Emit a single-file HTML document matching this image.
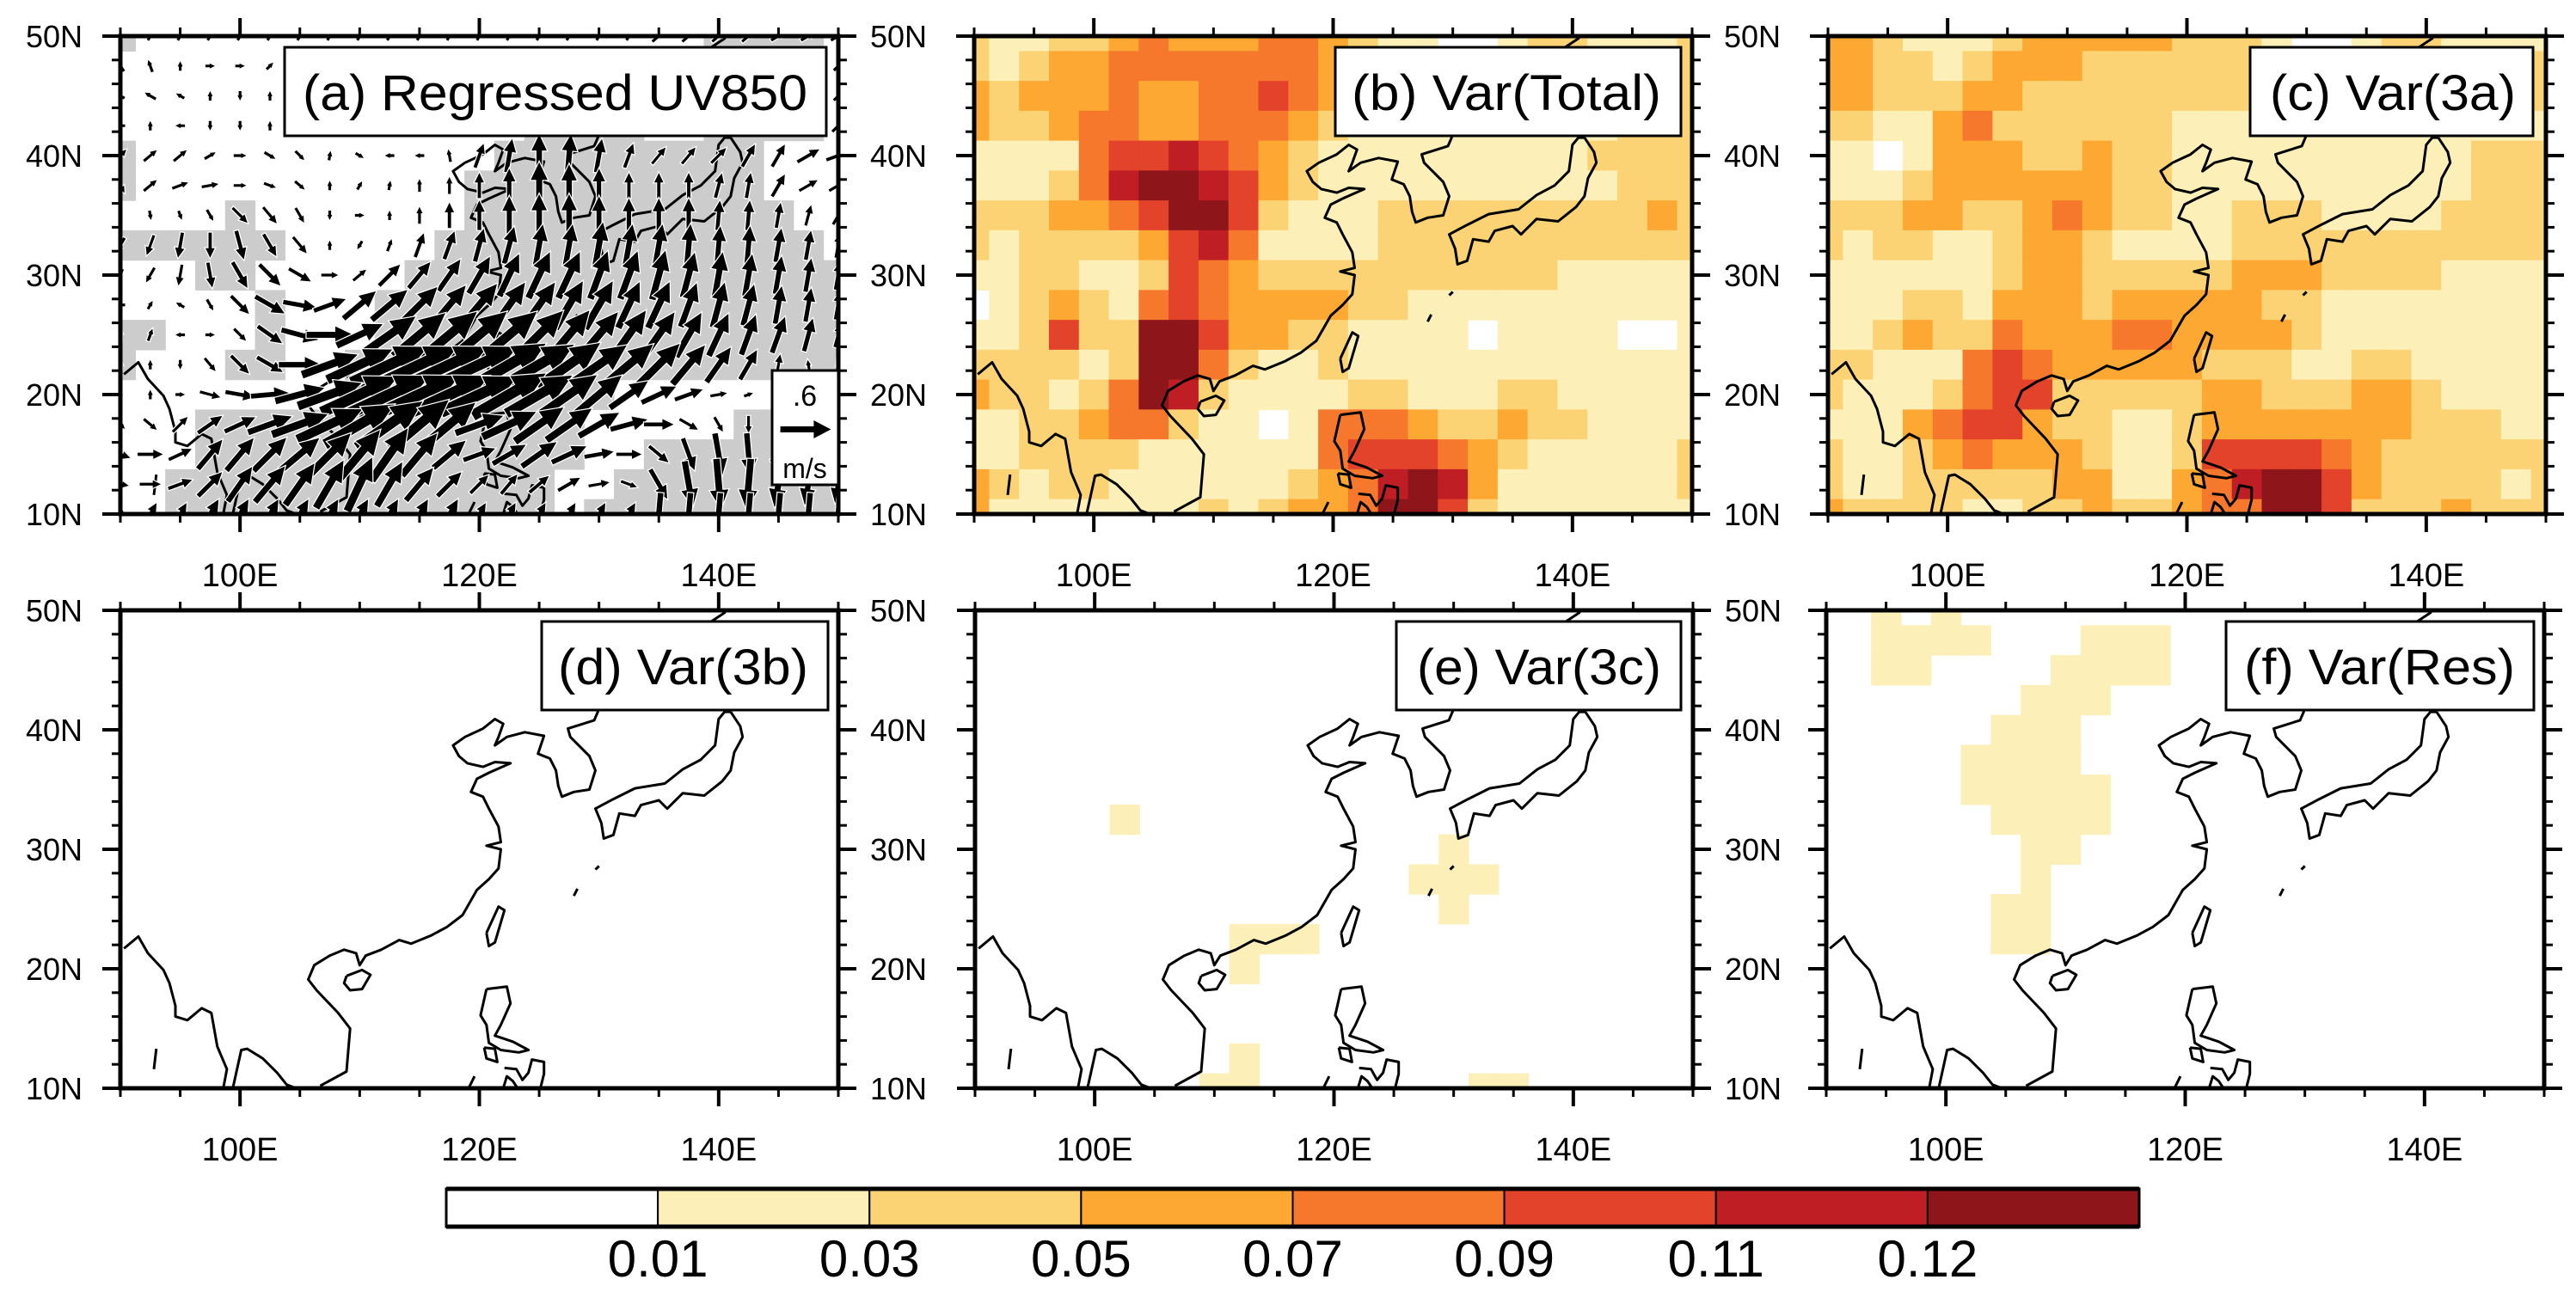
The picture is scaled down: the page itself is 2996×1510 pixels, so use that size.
<!DOCTYPE html>
<html><head><meta charset="utf-8"><title>Regressed UV850 and variance panels</title>
<style>html,body{margin:0;padding:0;background:#fff;}svg{display:block;font-family:"Liberation Sans",Arial,sans-serif;}</style>
</head><body>
<svg id="fig" xmlns="http://www.w3.org/2000/svg" width="2996" height="1510" viewBox="0 0 2996 1510"></svg>
<script>
// ===== DATA =====
const lonTicks = [100, 120, 140];
const lonTickLabels = ["100E", "120E", "140E"];
const latTicks = [10, 20, 30, 40, 50];
const latTickLabels = ["10N", "20N", "30N", "40N", "50N"];
const levelColors = ["#ffffff","#fcefb8","#fcd374","#fca832","#f5782d","#e3432a","#bf1f24","#8e161b"];
const levelLabels = ["0.01","0.03","0.05","0.07","0.09","0.11","0.12"];
const panelTitles = ["(a) Regressed UV850","(b) Var(Total)","(c) Var(3a)","(d) Var(3b)","(e) Var(3c)","(f) Var(Res)"];
// grid rows 50N -> 10N (2.5 deg), columns 90E -> 150E (2.5 deg)
const varTotal = [
"2112234333443211001221112","2123344444443333333333332","3233343344543222222222222",
"3223443344432111111111222","1111455654321111111112222","1112467765321111111111222",
"2223345775211122222222232","2122223564111122222222222","1122112543222222222211111",
"0123214543333221111111111","1125227753322111101111001","2222127742112111111111111",
"3221247621111221112211111","1122344211014443223221111","1122221111114555432111112",
"3212211111123467631111112","3111111121233477521111111"];
const var3a = [
"3321112333332221001221111","3322123332222222222222222","3322233222222222222222222",
"2211342222221111111111111","1101333223221111111111222","1112333333221111111111222",
"2223322343221122211112222","2122112332111122222222222","1111112332222233322221111",
"1112213332333332211111111","1123224333443333211111111","2211145433333222112211111",
"2111245522222332223321111","1113455322112333333322211","2112343332112555543222222",
"2112222233113467753222212","3222211223223447752223222"];
const var3b = Array(17).fill("0000000000000000000000000");
const var3c = [
"0000000000000000000000000","0000000000000000000000000","0000000000000000000000000",
"0000000000000000000000000","0000000000000000000000000","0000000000000000000000000",
"0000000000000000000000000","0000010000000000000000000","0000000000000000100000000",
"0000000000000001110000000","0000000000000000100000000","0000000001110000000000000",
"0000000001000000000000000","0000000000000000000000000","0000000000000000000000000",
"0000000001000000000000000","0000000011000000011000000"];
const varRes = [
"0010100000000000000000000","0011110001110000000000000","0011000011110000000000000",
"0000000111000000000000000","0000001110000000000000000","0000011110000000000000000",
"0000011111000000000000000","0000001111000000000000000","0000000110000000000000000",
"0000000100000000000000000","0000001100000000000000000","0000001100000000000000000",
"0000000000000000000000000","0000000000000000000000000","0000000000000000000000000",
"0000000000000000000000000","0000000000000000000000000"];
const sigMask = [
"1000000000000000000011110","0000000000000000000000000","0000000000000000000000000",
"0000000000000011110011110","1000000000000111111111000","1000000000001111111111000",
"0000100000001111111111100","1111110000011111111111110","0001100000111111111111111",
"0000010001111111111111111","1100010001111111111111111","1000110011111111111111111",
"0000000011111111100000000","0001111111111111000001111","0001111111111111001111111",
"0011111111111110011111111","0011111111111110111111111"];
const windDir = [
[60,60,60,60,60,60,60,60,60,60,60,60,60,60,60,60,60,60,40,40,40,40,30,30,30],
[125,110,90,0,0,45,45,45,45,45,45,45,45,45,45,45,45,45,45,45,45,45,45,45,45],
[150,150,150,90,270,90,90,90,90,90,90,90,90,90,90,90,90,90,90,90,90,90,90,45,45],
[180,90,180,270,270,90,90,90,90,90,90,90,90,90,90,90,90,90,90,90,90,60,60,45,45],
[45,40,40,30,0,-30,-45,80,-30,180,180,100,70,80,90,85,80,70,50,50,45,60,60,30,20],
[-60,40,20,10,0,-20,-40,90,60,80,90,90,90,90,90,90,90,90,90,90,75,80,60,30,30],
[-70,-80,-70,-60,-45,-50,-60,-90,0,90,90,90,90,90,90,90,90,90,90,90,85,85,80,75,60],
[-120,-110,-100,-90,-75,-60,-50,90,-120,70,70,70,75,75,80,80,80,80,80,85,85,85,80,80,80],
[-110,-120,-100,-80,-60,-45,-30,0,40,45,50,55,60,65,65,65,70,70,75,75,80,80,80,80,80],
[180,60,150,-60,-45,-30,-10,20,40,40,45,50,50,55,55,60,60,65,65,70,75,75,80,80,80],
[90,70,180,0,-45,-35,-15,0,25,35,40,40,40,40,45,50,50,55,55,60,65,70,70,75,75],
[90,90,270,-50,-45,-30,0,20,25,25,25,25,25,30,30,35,35,40,45,50,55,60,80,100,110],
[90,90,0,-15,-10,5,15,20,25,25,25,25,25,30,30,35,40,35,25,20,10,20,90,180,180],
[-45,-40,45,35,25,20,20,25,30,35,40,40,20,25,35,35,30,15,0,-30,-60,-90,-100,-110,-100],
[-20,0,25,50,50,45,40,45,50,55,50,40,20,30,35,25,10,0,-40,-70,-80,-85,-90,-95,-100],
[-10,0,20,45,55,50,55,60,65,60,50,45,45,50,40,30,10,-20,-60,-80,-85,-95,-100,-100,-100],
[90,60,60,60,60,60,60,60,60,60,60,60,60,60,60,60,60,60,-95,-95,-95,-95,-95,-95,-95]];
const windSpd = [
[.1,.1,.1,.1,.1,.1,.1,.1,.1,.1,.1,.1,.1,.1,.1,.1,.1,.1,.2,.2,.2,.2,.2,.2,.2],
[.15,.15,.1,.1,.1,.1,.1,.1,.1,.1,.1,.1,.1,.1,.1,.1,.1,.1,.1,.1,.1,.1,.1,.15,.15],
[.1,.15,.1,.1,.1,.1,.1,.1,.1,.1,.1,.1,.1,.1,.1,.1,.1,.1,.1,.1,.1,.1,.1,.15,.15],
[.1,.1,.05,.05,.1,.1,.1,.1,.1,.1,.1,.1,.2,.2,.2,.2,.2,.2,.2,.2,.2,.2,.2,.2,.2],
[.2,.2,.2,.15,.15,.15,.15,.1,.05,.1,.1,.15,.3,.4,.5,.5,.4,.3,.25,.25,.25,.3,.3,.3,.3],
[.2,.2,.2,.2,.15,.15,.15,.05,.05,.1,.15,.2,.3,.4,.55,.5,.4,.3,.3,.3,.3,.3,.3,.25,.25],
[.1,.1,.1,.15,.25,.25,.2,.1,.1,.1,.2,.3,.35,.45,.5,.5,.45,.4,.4,.4,.35,.35,.3,.25,.25],
[.2,.25,.3,.3,.35,.3,.25,.05,.1,.15,.3,.35,.4,.45,.5,.5,.55,.5,.5,.5,.45,.45,.4,.35,.3],
[.15,.2,.25,.3,.35,.35,.3,.2,.2,.35,.4,.45,.5,.55,.6,.6,.6,.6,.6,.55,.55,.5,.45,.4,.35],
[.05,.05,.1,.15,.3,.4,.4,.4,.5,.55,.6,.6,.65,.65,.65,.65,.65,.6,.6,.55,.55,.5,.45,.4,.35],
[.15,.15,.05,.05,.2,.35,.45,.55,.6,.75,.8,.85,.85,.85,.8,.75,.7,.7,.65,.6,.55,.5,.45,.4,.3],
[.05,.05,.05,.2,.3,.35,.5,.7,.85,1,1,1,1,1,.95,.9,.8,.75,.7,.6,.5,.4,.25,.1,.1],
[.05,.05,.1,.25,.35,.45,.6,.8,1,1.05,1.05,1.05,1,1,.9,.8,.7,.55,.45,.35,.2,.1,.05,.05,.05],
[.15,.2,.25,.35,.4,.55,.7,.85,.95,.95,.9,.8,.6,.7,.7,.65,.55,.45,.35,.25,.2,.2,.2,.2,.2],
[.25,.3,.3,.45,.5,.55,.6,.7,.75,.75,.65,.5,.4,.45,.5,.45,.35,.3,.3,.4,.5,.5,.55,.5,.45],
[.2,.25,.3,.4,.5,.55,.6,.65,.7,.6,.5,.4,.3,.3,.3,.3,.25,.2,.4,.55,.6,.6,.55,.5,.45],
[.2,.3,.3,.4,.4,.4,.4,.4,.4,.4,.4,.4,.3,.3,.3,.3,.3,.3,.5,.5,.5,.5,.5,.5,.5]];
const refSpeed = 0.6;
// coastline geometry (lon,lat)
const coasts = [
[[90.3,21.7],[91.5,22.7],[92.3,21.3],[93.6,19.9],[94.1,18.8],[94.6,16.9],[94.6,16],[95.6,15.7],[96.8,16.7],[97.6,16.3],[98.1,13.5],[98.9,11.6],[98.6,10]],
[[99.4,10],[100.1,13.2],[100.6,13.3],[101.9,12.5],[103.1,11.3],[103.9,10.3],[104.7,10]],
[[106.7,10.2],[108.9,11.4],[109.2,15.0],[108.2,16.3],[106.4,18.2],[105.7,19.1],[106.2,20.3],[107.5,21.1],[108.7,21.6],[109.7,21.3],[110,20.3],[110.5,21.1],[111.8,21.6],[113.3,22.4],[114.3,22.1],[116.0,22.8],[117.3,23.5],[118.6,24.5],[119.8,26.6],[120.8,27.5],[121.6,28.4],[121.8,30.0],[120.6,30.3],[121.8,30.6],[121.6,31.9],[120.8,33.4],[120.3,34.4],[119.3,34.8],[119.8,35.9],[120.8,36.4],[122.6,37.2],[121.3,37.3],[120.3,36.9],[119.0,37.2],[118.3,37.8],[117.8,38.7],[118.8,39.4],[120.3,40.1],[121.3,40.9],[122.0,40.5],[121.6,39.4],[121.3,38.7],[122.3,39.4],[123.8,39.8],[125.4,39.5],[124.9,38.0],[125.9,37.6],[126.4,36.6],[126.6,35.3],[126.9,34.4],[127.9,34.8],[129.2,35.0],[129.7,36.6],[129.2,37.8],[127.6,39.4],[127.4,40.1],[129.6,40.8],[129.9,41.5],[130.4,44],[131.4,44.7],[135.5,46.5],[140.5,49.8],[140.8,50.5]],
[[141.0,41.5],[141.8,40.3],[142.0,39.4],[141.3,38.1],[141.0,36.6],[140.3,35.7],[138.8,34.5],[137.0,34.7],[135.7,33.4],[135.0,34.1],[133.5,33.7],[133.0,32.8],[131.7,33.0],[131.2,31.2],[130.4,30.9],[130.2,32.2],[129.7,33.4],[131.2,34.2],[133.0,35.1],[135.5,35.5],[137.0,36.7],[138.5,37.5],[139.7,38.7],[140.0,40.9],[140.5,41.5],[141.0,41.5]],
[[141.5,41.8],[141.2,43.0],[141.8,45.3],[143.5,44.2],[145.5,43.3],[143.3,42.0],[141.5,41.8]],
[[120.6,23.0],[121.6,25.2],[122.1,24.9],[121.3,22.2],[120.8,21.9],[120.6,23.0]],
[[108.9,19.4],[110.2,19.9],[110.9,19.5],[110.2,18.3],[109.2,18.2],[108.7,18.8],[108.9,19.4]],
[[120.6,18.3],[122.3,18.5],[122.6,17.1],[121.8,15.3],[121.3,14.4],[122.8,13.9],[124.1,13.2],[123.3,13.0],[121.8,13.2],[120.8,13.8],[120.6,15.3],[120.1,16.1],[120.6,18.3]],
[[120.4,13.4],[121.3,13.3],[121.5,12.2],[120.6,12.5],[120.4,13.4]],
[[122.1,11.7],[123.1,11.6],[123.6,10.7],[124.1,11.3],[124.4,12.4],[125.4,12.2],[125.4,11.2],[125.1,10.0]],
[[122.0,10],[122.3,11.0],[122.8,10.6],[123.2,10]],
[[93.0,13.3],[92.8,11.6]],
[[129.7,28.3],[130.0,28.6]],
[[128.2,26.7],[127.9,26.1]],
[[119.1,10],[119.6,11.0]]];

// ===== LAYOUT =====
const NS = "http://www.w3.org/2000/svg";
const svg = document.getElementById("fig");
const LON0 = 90, LON1 = 150, LAT0 = 10, LAT1 = 50;
const PW = 835, PH = 556;
const panels = [
 {x:140,y:42,box:[331,961],txt:[352,939],left:true,right:true,kind:"wind"},
 {x:1133,y:42,box:[1553,1955],txt:[1572,1932],left:false,right:true,data:varTotal},
 {x:2126,y:42,box:[2617,2946],txt:[2640,2926],left:false,right:false,data:var3a},
 {x:140,y:710,box:[630,963],txt:[649,940],left:true,right:true,data:var3b},
 {x:1134,y:710,box:[1624,1955],txt:[1648,1932],left:false,right:true,data:var3c},
 {x:2124,y:710,box:[2589,2947],txt:[2610,2925],left:false,right:false,data:varRes}];

function el(tag, attrs, parent){
  const e = document.createElementNS(NS, tag);
  for (const k in attrs) e.setAttribute(k, attrs[k]);
  (parent||svg).appendChild(e);
  return e;
}
const defs = el("defs", {});

panels.forEach((p, pi) => {
  const xs = lon => p.x + (lon - LON0) / (LON1 - LON0) * PW;
  const ys = lat => p.y + (LAT1 - lat) / (LAT1 - LAT0) * PH;
  const g = el("g", {});
  
  
  const cp = el("clipPath", {id: "clip" + pi}, defs);
  el("rect", {x:p.x, y:p.y, width:PW, height:PH}, cp);
  const inner = el("g", {"clip-path": "url(#clip" + pi + ")"}, g);

  // shading cells
  if (p.kind === "wind") {
    sigMask.forEach((row, j) => {
      for (let i = 0; i < row.length; i++) {
        if (row[i] !== "1") continue;
        const lon = LON0 + 2.5 * i, lat = LAT1 - 2.5 * j;
        const r = el("rect", {x:xs(lon-1.25), y:ys(lat+1.25), width:xs(lon+1.25)-xs(lon-1.25)+0.6, height:ys(lat-1.25)-ys(lat+1.25)+0.6, fill:"#cccccc"}, inner);
        
        
      }
    });
  } else {
    p.data.forEach((row, j) => {
      for (let i = 0; i < row.length; i++) {
        const lv = +row[i];
        if (lv === 0) continue;
        const lon = LON0 + 2.5 * i, lat = LAT1 - 2.5 * j;
        const r = el("rect", {x:xs(lon-1.25), y:ys(lat+1.25), width:xs(lon+1.25)-xs(lon-1.25)+0.6, height:ys(lat-1.25)-ys(lat+1.25)+0.6, fill:levelColors[lv]}, inner);
        
        
      }
    });
  }

  // coastlines
  coasts.forEach(c => {
    const pts = c.map(q => xs(q[0]).toFixed(1) + "," + ys(q[1]).toFixed(1)).join(" ");
    const pl = el("polyline", {points:pts, fill:"none", stroke:"#000", "stroke-width":3, "stroke-linejoin":"round"}, inner);
    
    
  });

  // wind vectors
  if (p.kind === "wind") {
    windDir.forEach((row, j) => {
      row.forEach((d, i) => {
        const s = windSpd[j][i];
        const lon = LON0 + 2.5 * i, lat = LAT1 - 2.5 * j;
        const cx = xs(lon), cy = ys(lat);
        const L = Math.max(11, s * 98);
        const a = d * Math.PI / 180, ux = Math.cos(a), uy = -Math.sin(a);
        const px = -uy, py = ux;
        const h = Math.max(6, L * 0.38), hw = h * 0.48, sw = Math.max(1.6, L * 0.065);
        const tx = cx - ux * L / 2, ty = cy - uy * L / 2;
        const hx = cx + ux * L / 2, hy = cy + uy * L / 2;
        const bx = hx - ux * h, by = hy - uy * h;
        const P = [[tx+px*sw,ty+py*sw],[bx+px*sw,by+py*sw],[bx+px*hw,by+py*hw],[hx,hy],[bx-px*hw,by-py*hw],[bx-px*sw,by-py*sw],[tx-px*sw,ty-py*sw]];
        const pts = P.map(q => q[0].toFixed(1) + "," + q[1].toFixed(1)).join(" ");
        const ar = el("polygon", {points:pts, fill:"#000", stroke:"#fff", "stroke-width":2.5, "paint-order":"stroke", "stroke-linejoin":"miter"}, inner);
        
        
      });
    });
  }

  // frame
  const fr = el("rect", {x:p.x, y:p.y, width:PW, height:PH, fill:"none", stroke:"#000", "stroke-width":5}, g);
  
  

  // lon ticks
  for (let lon = 90; lon <= 150; lon += 5) {
    const major = lonTicks.indexOf(lon) >= 0, len = major ? 21 : 10, sw = major ? 4 : 3;
    el("line", {x1:xs(lon), x2:xs(lon), y1:p.y+PH, y2:p.y+PH+len, stroke:"#000", "stroke-width":sw}, g);
    el("line", {x1:xs(lon), x2:xs(lon), y1:p.y, y2:p.y-len, stroke:"#000", "stroke-width":sw}, g);
  }
  lonTicks.forEach((lon, k) => {
    const t = el("text", {x:xs(lon), y:p.y+PH+84, "font-size":38, "text-anchor":"middle", fill:"#000"}, g);
    t.textContent = lonTickLabels[k];
    
    
  });
  // lat ticks
  for (let lat = 10; lat <= 50; lat += 2) {
    const major = latTicks.indexOf(lat) >= 0, len = major ? 21 : 10, sw = major ? 4 : 3;
    el("line", {x1:p.x, x2:p.x-len, y1:ys(lat), y2:ys(lat), stroke:"#000", "stroke-width":sw}, g);
    el("line", {x1:p.x+PW, x2:p.x+PW+len, y1:ys(lat), y2:ys(lat), stroke:"#000", "stroke-width":sw}, g);
  }
  latTicks.forEach((lat, k) => {
    if (p.left) {
      const t = el("text", {x:p.x-44, y:ys(lat)+13, "font-size":36, "text-anchor":"end", fill:"#000"}, g);
      t.textContent = latTickLabels[k];
      
      
    }
    if (p.right) {
      const t = el("text", {x:p.x+PW+37, y:ys(lat)+13, "font-size":36, "text-anchor":"start", fill:"#000"}, g);
      t.textContent = latTickLabels[k];
      
      
    }
  });

  // title box
  const by0 = p.y + 13;
  const bx = el("rect", {x:p.box[0], y:by0, width:p.box[1]-p.box[0], height:103, fill:"#fff", stroke:"#000", "stroke-width":3}, g);
  
  
  const tt = el("text", {x:p.txt[0], y:by0+73, "font-size":58, textLength:p.txt[1]-p.txt[0], lengthAdjust:"spacingAndGlyphs", fill:"#000"}, g);
  tt.textContent = panelTitles[pi];
  
  

  // reference vector
  if (p.kind === "wind") {
    const rb = el("rect", {x:898, y:431, width:77, height:133, fill:"#fff", stroke:"#000", "stroke-width":3}, g);
    
    
    const rt = el("text", {x:936, y:472, "font-size":34, "text-anchor":"middle"}, g);
    rt.textContent = ".6";
    
    
    const L = refSpeed * 98, x0 = 937 - L / 2, x1 = 937 + L / 2;
    const ra = el("polygon", {points:`${x0},496 ${x1-20},496 ${x1-20},489 ${x1},499.5 ${x1-20},510 ${x1-20},503 ${x0},503`, fill:"#000"}, g);
    
    
    const ru = el("text", {x:936, y:556, "font-size":32, "text-anchor":"middle"}, g);
    ru.textContent = "m/s";
    
    
  }
});

// ===== COLORBAR =====
const cb = el("g", {});


const CBX = 519, CBY = 1383, CBW = 1969, CBH = 44;
const bw = CBW / levelColors.length;
levelColors.forEach((c, k) => {
  const r = el("rect", {x:CBX + k*bw, y:CBY, width:bw, height:CBH, fill:c, stroke:"#000", "stroke-width":2}, cb);
  
  
});
el("line", {x1:CBX, x2:CBX+CBW, y1:CBY, y2:CBY, stroke:"#000", "stroke-width":5}, cb);
el("line", {x1:CBX, x2:CBX+CBW, y1:CBY+CBH, y2:CBY+CBH, stroke:"#000", "stroke-width":5}, cb);
el("rect", {x:CBX, y:CBY, width:CBW, height:CBH, fill:"none", stroke:"#000", "stroke-width":3}, cb);
levelLabels.forEach((lab, k) => {
  const t = el("text", {x:CBX + (k+1)*bw, y:1485, "font-size":60, "text-anchor":"middle", fill:"#000"}, cb);
  t.textContent = lab;
  
  
});
</script>
</body></html>
